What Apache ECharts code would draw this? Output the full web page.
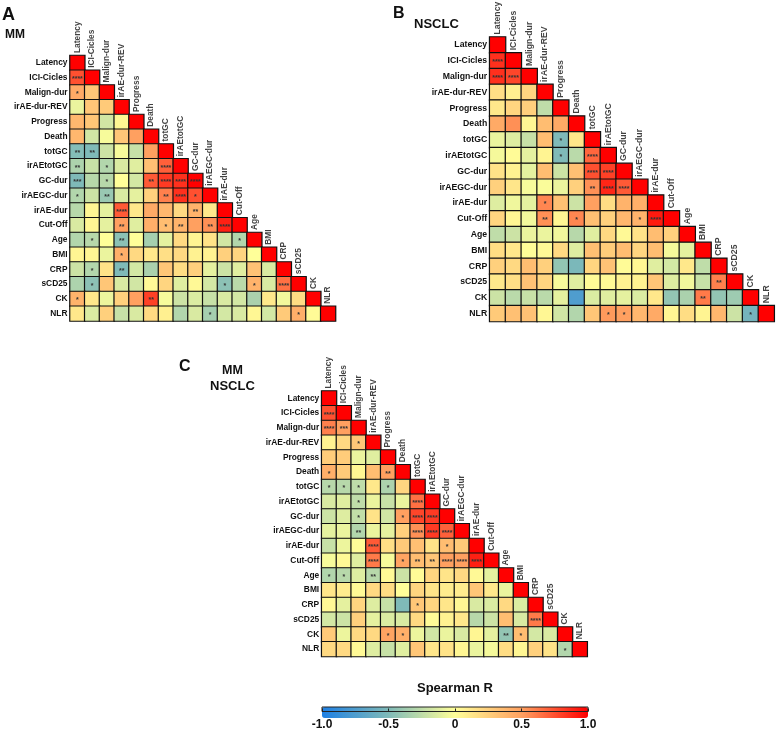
<!DOCTYPE html>
<html><head><meta charset="utf-8">
<style>html,body{margin:0;padding:0;background:#fff}#c{width:777px;height:731px}</style>
<script src="https://cdn.jsdelivr.net/npm/echarts@6/dist/echarts.min.js"></script>
</head><body><div id="c"></div>
<script>
const variables = ["Latency","ICI-Cicles","Malign-dur","irAE-dur-REV","Progress","Death","totGC","irAEtotGC","GC-dur","irAEGC-dur","irAE-dur","Cut-Off","Age","BMI","CRP","sCD25","CK","NLR"];
const colorStops = ["#1E80E4","#7FBAB8","#FFFF99","#FFA060","#FF0000"];
const barTicks = {"-1":"-1.0","-0.5":"-0.5","0":"0","0.5":"0.5","1":"1.0"};

const valuesA = [
[1],
[.75,1],
[.45,.3,1],
[-.08,.3,.28,1],
[.38,.3,-.18,.05,1],
[.38,-.18,-.03,.3,.5,1],
[-.48,-.5,-.2,-.03,-.22,.5,1],
[-.32,-.22,-.3,-.15,-.12,.33,.7,1],
[-.5,-.28,-.28,0,-.17,.72,.82,.85,1],
[-.3,-.2,-.4,-.15,-.1,.25,.6,.85,.75,1],
[-.28,.05,-.1,.72,.12,.45,.38,.2,.4,.12,1],
[-.15,.05,-.1,.5,-.12,.42,.35,.4,.5,.55,.9,1],
[-.3,-.28,0,-.45,0,-.35,-.1,.2,.06,.15,-.18,-.3,1],
[.05,.05,-.08,.42,.2,.12,.17,.2,.07,.07,.25,.22,0,1],
[-.2,-.3,.15,-.5,-.17,-.33,.3,.18,.25,-.1,-.2,-.12,.32,-.15,1],
[-.32,-.45,.3,-.15,-.18,.03,.22,-.12,.03,-.17,-.45,-.27,.4,-.15,.65,1],
[.4,.12,-.07,.25,.5,.8,-.03,-.2,-.14,-.22,-.15,-.17,-.33,.12,-.05,.18,1],
[.12,-.14,.25,-.22,-.15,.2,.08,-.3,-.15,-.35,-.17,-.15,.04,-.17,.28,.42,.02,1]
];
const starsA = [[1,0,4],[2,0,1],[6,0,2],[6,1,2],[7,0,2],[7,2,1],[7,6,4],[8,0,3],[8,2,1],[8,5,2],[8,6,4],[8,7,4],[8,8,4],[9,0,1],[9,2,2],[9,6,2],[9,7,4],[9,8,1],[10,3,4],[10,8,2],[11,3,2],[11,6,1],[11,7,2],[11,9,2],[11,10,4],[12,1,1],[12,3,2],[12,11,1],[13,3,1],[14,1,1],[14,3,2],[15,1,1],[15,10,1],[15,12,1],[15,14,4],[16,0,1],[16,5,2],[17,9,1],[17,15,1]];

const valuesB = [
[1],
[.85,1],
[.85,.78,1],
[.17,.08,.22,1],
[.12,.22,.25,-.25,1],
[.45,.55,.05,.35,.45,1],
[-.08,-.13,-.22,.35,-.5,.13,1],
[-.04,.02,-.1,.06,-.5,-.27,.68,1],
[.15,.07,-.1,.35,-.2,.33,.75,.8,1],
[.25,.13,-.03,-.02,-.08,.25,.55,.88,.72,1],
[-.13,-.06,-.1,.58,.33,-.2,.5,.18,.4,.42,1],
[.22,.05,-.05,.55,.05,.58,.33,.25,.38,.4,.92,1],
[-.25,-.2,-.08,-.08,-.05,-.28,-.12,.2,.03,.15,.35,.25,1],
[.18,.12,.01,.03,.2,-.13,.33,.27,.35,.22,.35,-.04,-.1,1],
[.25,.2,.35,.25,-.42,-.52,.22,.32,.02,.05,-.12,-.17,.12,-.25,1],
[.12,.17,.32,.22,-.03,-.12,.02,.03,.07,.07,.3,-.13,-.05,-.22,.6,1],
[-.2,-.27,-.22,-.27,-.1,-.75,-.14,-.12,-.1,-.14,.12,-.42,-.33,.62,-.42,-.38,1],
[.28,.33,.32,.04,-.18,-.3,.3,.52,.5,.38,.45,.05,.18,.06,.38,-.2,-.55,1]
];
const starsB = [[1,0,4],[2,0,4],[2,1,4],[6,4,1],[7,4,1],[7,6,4],[8,6,4],[8,7,4],[9,6,2],[9,7,4],[9,8,4],[10,3,1],[11,3,2],[11,5,1],[11,9,1],[11,10,4],[15,14,2],[16,13,2],[17,7,1],[17,8,1],[17,16,1]];

const valuesC = [
[1],
[.75,1],
[.6,.5,1],
[.07,.2,.3,1],
[.27,.27,-.08,-.12,1],
[.42,.28,.05,.35,.5,1],
[-.28,-.28,-.25,.12,-.32,.22,1],
[-.15,-.12,-.25,-.08,-.22,-.08,.65,1],
[-.2,-.13,-.24,.15,-.18,.5,.78,.82,1],
[-.1,-.08,-.3,-.08,-.1,.25,.55,.82,.7,1],
[-.22,-.07,.01,.72,.17,.28,.33,.15,.35,.28,1],
[-.03,.03,-.12,.62,-.03,.48,.35,.3,.5,.5,.9,1],
[-.3,-.28,-.13,-.28,.03,-.2,.02,.22,.14,.2,.03,-.1,1],
[.13,.1,.03,.2,.18,0,.22,.15,.1,.1,.3,.12,-.08,1],
[.03,-.1,.22,-.13,-.22,-.5,.3,.22,.13,.04,-.15,-.14,.2,-.14,1],
[-.17,-.2,.25,-.1,-.14,-.15,.2,.02,.07,.12,-.28,-.2,.35,-.15,.62,1],
[.28,-.07,.2,.2,.48,.42,-.07,-.18,-.08,-.15,.05,-.1,-.42,.35,-.17,-.15,1],
[.2,.2,.03,-.13,-.22,-.12,.3,.13,.15,.05,-.08,-.04,.18,.05,.25,.15,-.3,1]
];
const starsC = [[1,0,4],[2,0,4],[2,1,3],[3,2,1],[5,0,1],[5,4,2],[6,0,1],[6,1,1],[6,2,1],[6,4,1],[7,2,1],[7,6,4],[8,2,1],[8,5,1],[8,6,4],[8,7,4],[9,2,2],[9,6,4],[9,7,4],[9,8,4],[10,3,4],[10,8,1],[11,3,4],[11,5,1],[11,6,2],[11,7,2],[11,8,4],[11,9,4],[11,10,4],[12,0,1],[12,1,1],[12,3,2],[14,6,1],[15,14,4],[16,4,1],[16,5,1],[16,12,2],[16,13,1],[17,16,1]];

const panels = [
  {v:valuesA,s:starsA,left:70,top:55.5,size:265.5,font:8.4},
  {v:valuesB,s:starsB,left:489.7,top:37,size:284.5,font:8.7},
  {v:valuesC,s:starsC,left:321.7,top:391,size:265.5,font:8.4}
];
const grid=[],xAxis=[],yAxis=[],series=[],heatIdx=[];
panels.forEach((p,i)=>{
  const cell=p.size/18;
  grid.push({left:p.left,top:p.top,width:p.size,height:p.size});
  xAxis.push({type:'category',gridIndex:i,data:variables,show:false});
  yAxis.push({type:'category',gridIndex:i,data:variables,inverse:true,
    axisLine:{show:false},axisTick:{show:false},splitLine:{show:false},
    axisLabel:{interval:0,margin:2.5,fontFamily:'Liberation Sans',fontWeight:'bold',fontSize:p.font,color:'#111'}});
  const star={};p.s.forEach(t=>star[t[0]+'_'+t[1]]='*'.repeat(t[2]));
  const data=[];p.v.forEach((row,r)=>row.forEach((val,c)=>data.push([c,r,val,star[r+'_'+c]||''])));
  heatIdx.push(series.length);
  series.push({type:'heatmap',xAxisIndex:i,yAxisIndex:i,data,encode:{x:0,y:1,value:2},
    itemStyle:{borderColor:'#111',borderWidth:1.2},emphasis:{disabled:true},
    label:{show:true,formatter:o=>o.data[3],fontFamily:'Liberation Sans',fontSize:7,fontWeight:'bold',color:'#333',offset:[0,1.5]}});
  series.push({type:'scatter',xAxisIndex:i,yAxisIndex:i,symbolSize:0,silent:true,
    data:variables.map((n,k)=>[k,k,n]),
    label:{show:true,position:'top',distance:cell/2+2.5,rotate:90,align:'left',verticalAlign:'middle',
      formatter:o=>o.data[2],fontFamily:'Liberation Sans',fontWeight:'bold',fontSize:p.font,color:'#111'}});
});
grid.push({left:322,top:707,width:266,height:11,show:true,borderColor:'#222',borderWidth:1,backgroundColor:'transparent',z:6});
xAxis.push({type:'value',gridIndex:3,min:-1,max:1,interval:.5,z:7,
  axisLine:{show:false},splitLine:{show:false},
  axisTick:{show:true,inside:true,length:3,lineStyle:{color:'#222'}},
  axisLabel:{margin:7.5,fontFamily:'Liberation Sans',fontWeight:'bold',fontSize:12,color:'#111',formatter:v=>barTicks[String(v)]}});
yAxis.push({type:'value',gridIndex:3,min:0,max:1,show:false});

const txt=(x,y,t,fs)=>({type:'text',left:x,top:y,style:{text:t,fontFamily:'Liberation Sans',fontWeight:'bold',fontSize:fs,fill:'#111'}});
const option={
  animation:false,
  grid,xAxis,yAxis,series,
  visualMap:{type:'continuous',min:-1,max:1,seriesIndex:heatIdx,dimension:2,orient:'horizontal',
    left:322,top:707,itemWidth:11,itemHeight:266,calculable:false,hoverLink:false,text:null,showLabel:false,padding:0,
    inRange:{color:colorStops}},
  graphic:[
    txt(2,6,'A',18),txt(5,29,'MM',12),
    txt(393,6,'B',16),txt(414,18,'NSCLC',13),
    txt(179,359,'C',16),txt(222,364,'MM',12.5),txt(210,380,'NSCLC',13),
    txt(417,682,'Spearman R',13)
  ]
};
echarts.init(document.getElementById('c'),null,{renderer:'canvas'}).setOption(option);
</script></body></html>
